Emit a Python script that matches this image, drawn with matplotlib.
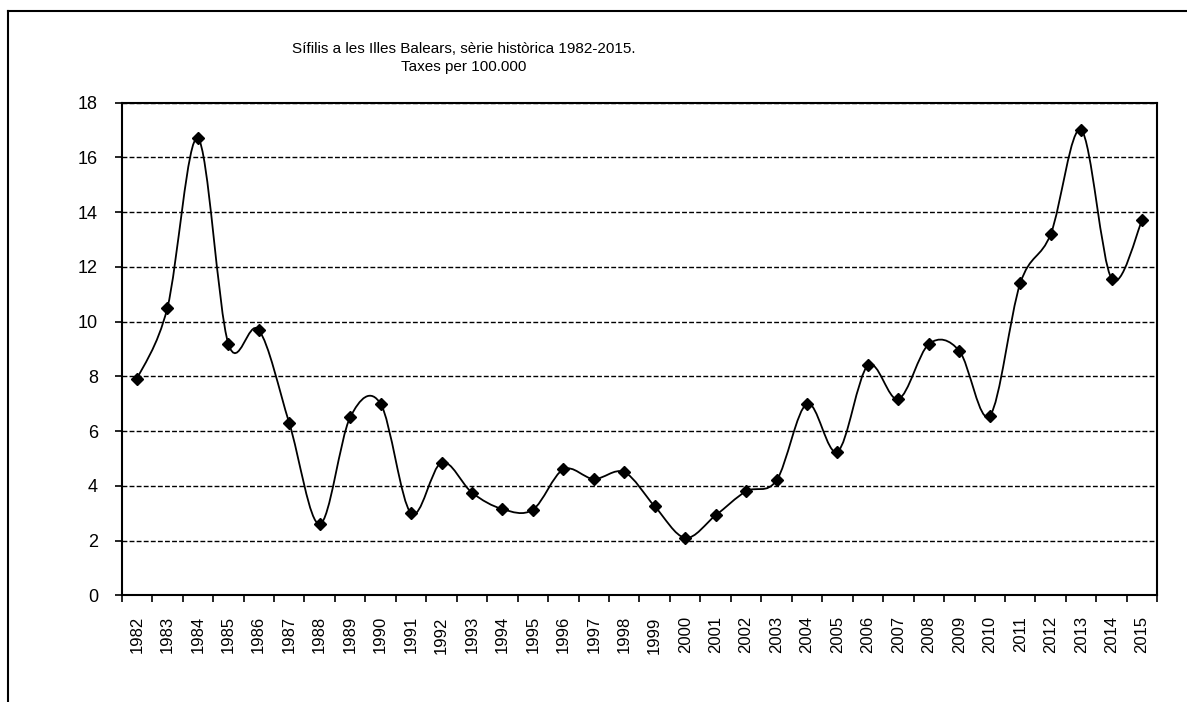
import numpy as np
import matplotlib
matplotlib.use("Agg")
import matplotlib.pyplot as plt
from matplotlib.path import Path
from matplotlib.patches import PathPatch
from matplotlib.lines import Line2D

plt.rcParams['font.family'] = ['Liberation Sans', 'DejaVu Sans']

years = [str(y) for y in range(1982, 2016)]
taxes = [7.9, 10.5, 16.7, 9.2, 9.7, 6.3, 2.6, 6.5, 7.0, 3.0,
         4.85, 3.75, 3.15, 3.13, 4.6, 4.25, 4.5, 3.25, 2.1, 2.92,
         3.8, 4.2, 7.0, 5.25, 8.4, 7.17, 9.18, 8.93, 6.56, 11.4,
         13.2, 17.0, 11.57, 13.7]

title = "Sífilis a les Illes Balears, sèrie històrica 1982-2015.\nTaxes per 100.000"


def smooth_path(x, y):
    # corba suavitzada tipus Excel (Bezier Catmull-Rom)
    pts = np.column_stack([x, y])
    verts = [pts[0]]
    codes = [Path.MOVETO]
    n = len(pts)
    for i in range(n - 1):
        p0 = pts[i - 1] if i > 0 else pts[i]
        p1 = pts[i]
        p2 = pts[i + 1]
        p3 = pts[i + 2] if i + 2 < n else pts[i + 1]
        c1 = p1 + (p2 - p0) / 6.0
        c2 = p2 - (p3 - p1) / 6.0
        verts += [c1, c2, p2]
        codes += [Path.CURVE4] * 3
    return Path(verts, codes)


fig = plt.figure(figsize=(11.87, 7.02), dpi=100)
ax = fig.add_axes([0.1025, 0.152, 0.8725, 0.7017])

x = np.arange(len(years))
ax.add_patch(PathPatch(smooth_path(x, np.array(taxes)), facecolor="none",
                       edgecolor="black", lw=1.3, zorder=3))
ax.plot(x, taxes, linestyle="none", marker="D", color="black",
        markersize=6.5, zorder=4)

ax.set_xlim(-0.5, len(years) - 0.5)
ax.set_ylim(0, 18)
ax.set_yticks(range(0, 19, 2))
ax.yaxis.grid(True, color="black", linestyle=(0, (3.5, 1.6)), lw=1.0)
ax.set_axisbelow(True)

ax.set_xticks(x)
ax.set_xticklabels(years, rotation=90, fontsize=12)
ax.tick_params(axis="x", which="major", length=0, pad=15)
ax.set_xticks(np.arange(-0.5, len(years)), minor=True)
ax.tick_params(axis="x", which="minor", length=5, width=1.2, direction="out")
ax.tick_params(axis="y", length=5, width=1.2, labelsize=13, pad=12)

for s in ax.spines.values():
    s.set_linewidth(1.5)

fig.text(464 / 1187, 1 - 58 / 702, title, ha="center", va="center",
         fontsize=11, linespacing=1.45)

# marc exterior (tallat a la dreta i a baix)
fig.add_artist(Line2D([8 / 1187, 1], [1 - 11 / 702, 1 - 11 / 702],
                      transform=fig.transFigure, color="black", lw=1.5))
fig.add_artist(Line2D([8 / 1187, 8 / 1187], [0, 1 - 11 / 702],
                      transform=fig.transFigure, color="black", lw=1.5))

fig.savefig("out.png", dpi=100)
